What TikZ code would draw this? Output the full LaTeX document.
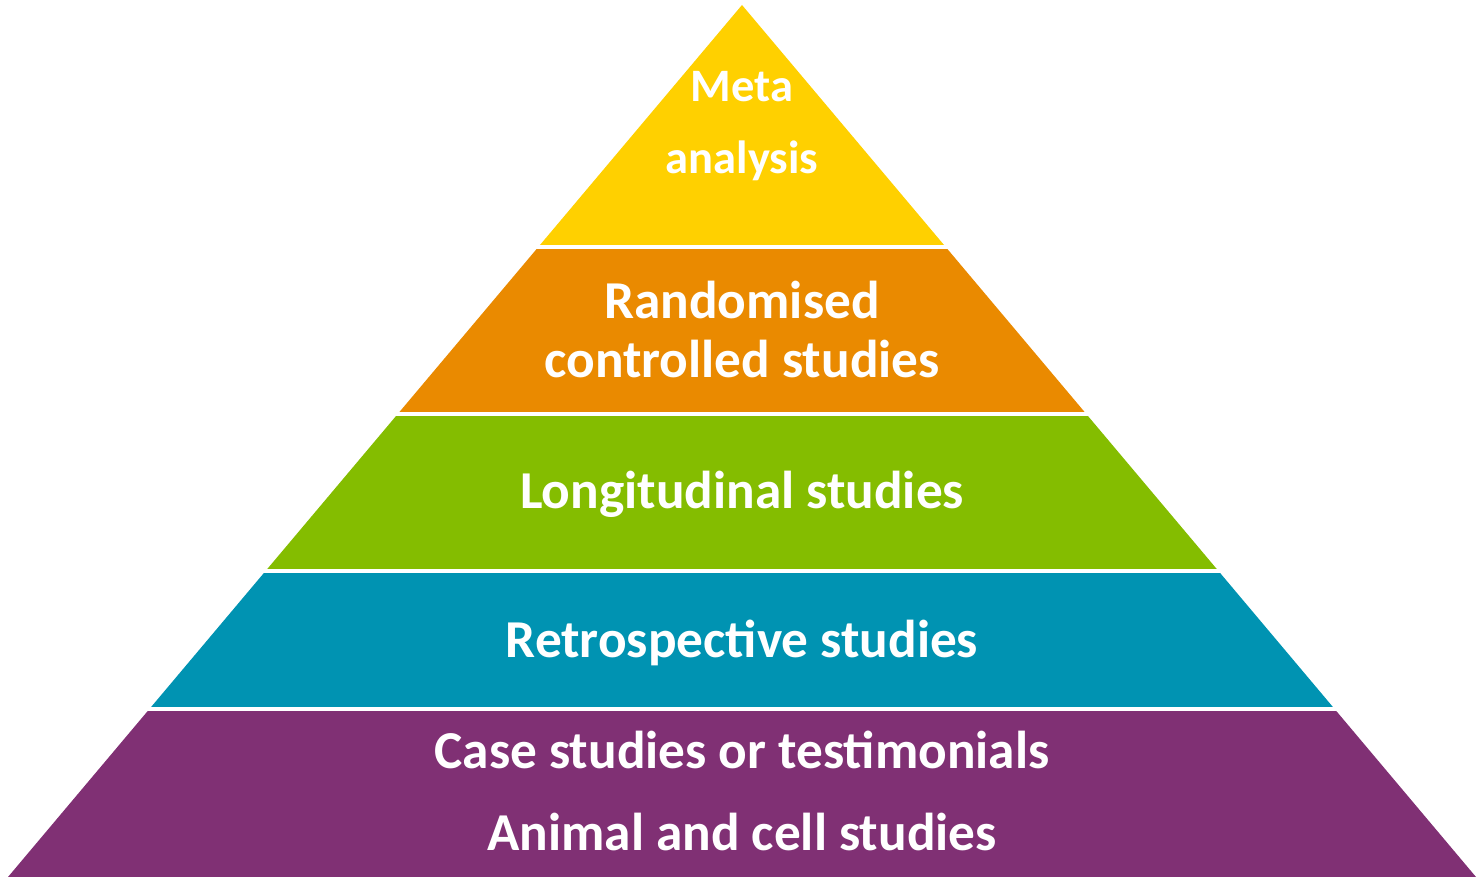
\documentclass[tikz,border=0pt]{standalone}
\usepackage{fontspec}
\setmainfont{Carlito}
\definecolor{tierYellow}{RGB}{255,208,0}
\definecolor{tierOrange}{RGB}{234,138,0}
\definecolor{tierGreen}{RGB}{132,189,0}
\definecolor{tierBlue}{RGB}{0,147,178}
\definecolor{tierPurple}{RGB}{128,48,116}
\begin{document}
\begin{tikzpicture}[x=1pt,y=-1pt,
  label/.style={text=white,inner sep=0pt,anchor=base,font=\bfseries\fontsize{53.3}{58}\selectfont},
  small/.style={label,font=\bfseries\fontsize{46.5}{50}\selectfont}]
\useasboundingbox (0,0) rectangle (1477,877);
% the whole pyramid outline
\def\pyr{(742,5) -- (8,877) -- (1476,877) -- cycle}
% each tier is the triangle clipped to a horizontal band
\foreach \col/\ya/\yb in {tierYellow/0/244.5, tierOrange/250/411,
    tierGreen/416.5/568.5, tierBlue/573.5/706, tierPurple/711/877}{
  \begin{scope}
    \clip (0,\ya) rectangle (1477,\yb);
    \fill[\col] \pyr;
  \end{scope}
}
\node[small] (meta) at (742,102) {Meta};
\node[small] (analysis) at (742,174) {analysis};
\node[label] (rand) at (742,318.5) {Randomised};
\node[label] (ctrl) at (742,377) {controlled studies};
\node[label] (longi) at (742,508.5) {Longitudinal studies};
\node[label] (retro) at (742,657.5) {Retrospective studies};
\node[label] (cases) at (742,768.5) {Case studies or testimonials};
\node[label] (animal) at (742,850) {Animal and cell studies};
\end{tikzpicture}
\end{document}
